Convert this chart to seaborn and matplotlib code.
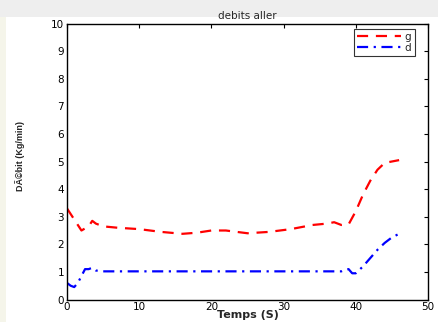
import numpy as np
import pandas as pd
import matplotlib
matplotlib.use("Agg")
import matplotlib.pyplot as plt
import seaborn as sns
from matplotlib.patches import Rectangle

# ---- data ----
t_g = [0, 1, 2, 3, 3.5, 4, 5, 7, 10, 13, 16, 18, 20, 22, 25, 28, 31, 34, 36, 37, 38, 39, 40, 41, 42, 43, 44, 45, 46]
v_g = [3.3, 2.9, 2.5, 2.65, 2.85, 2.75, 2.65, 2.6, 2.55, 2.45, 2.38, 2.42, 2.5, 2.5, 2.4, 2.45, 2.55, 2.7, 2.75, 2.8, 2.7, 2.72, 3.2, 3.8, 4.3, 4.7, 4.95, 5.0, 5.05]
t_d = [0, 0.5, 1, 1.5, 2, 2.5, 3, 3.5, 4, 5, 10, 20, 30, 38, 38.5, 39, 39.5, 40, 41, 42, 43, 44, 45, 46]
v_d = [0.6, 0.5, 0.45, 0.6, 0.85, 1.1, 1.1, 1.15, 1.05, 1.02, 1.02, 1.02, 1.02, 1.02, 1.08, 1.1, 0.95, 0.95, 1.2, 1.5, 1.8, 2.05, 2.25, 2.38]
series_names = ["g", "d"]
title = "debits aller"
xlabel = "Temps (S)"
ylabel = "DÃ©bit (Kg/min)"
xticks = [0, 10, 20, 30, 40, 50]
yticks = list(range(0, 11))

df = pd.concat([
    pd.DataFrame({"t": t_g, "v": v_g, "serie": "g"}),
    pd.DataFrame({"t": t_d, "v": v_d, "serie": "d"}),
], ignore_index=True)

sns.set_theme(style="white")
plt.rcParams["font.family"] = ["DejaVu Sans"]

fig = plt.figure(figsize=(4.39, 3.22), dpi=100, facecolor="white")
# background bands
fig.patches.append(Rectangle((0, 1 - 17 / 322), 1, 17 / 322, transform=fig.transFigure,
                             facecolor="#eeeeee", edgecolor="none", zorder=-10))
fig.patches.append(Rectangle((0, 0), 6 / 439, 1 - 17 / 322, transform=fig.transFigure,
                             facecolor="#f5f5ea", edgecolor="none", zorder=-10))

ax = fig.add_axes([67 / 439, 22.5 / 322, 361 / 439, 276 / 322])
ax.set_facecolor("white")

sns.lineplot(data=df, x="t", y="v", hue="serie", style="serie",
             hue_order=series_names, style_order=series_names,
             palette={"g": "#ff0000", "d": "#0000ff"},
             dashes={"g": (5, 3.5), "d": (5, 2.5, 1, 2.5)},
             linewidth=1.6, ax=ax, estimator=None, sort=False)

ax.set_xlim(0, 50)
ax.set_ylim(0, 10)
ax.set_xticks(xticks)
ax.set_yticks(yticks)
ax.tick_params(direction="in", length=3, width=0.8, top=True, right=True,
               labelsize=7.5, colors="black", pad=2)
for s in ax.spines.values():
    s.set_color("black")
    s.set_linewidth(1.0)

ax.set_title(title, fontsize=7.5, pad=3)
ax.set_xlabel(xlabel, fontsize=8, fontweight="bold")
ax.xaxis.set_label_coords(0.5, -0.038)
ax.set_ylabel(ylabel, fontsize=6.5, fontweight="bold",
              family=["Liberation Sans", "DejaVu Sans"])
ax.yaxis.set_label_coords(-0.115, 0.52)

leg = ax.legend(loc="upper right", fontsize=7.5, frameon=True, fancybox=False,
                edgecolor="black", handlelength=4.2, borderpad=0.3, labelspacing=0.1,
                handletextpad=0.4, borderaxespad=0.25, bbox_to_anchor=(0.97, 0.99))
leg.get_frame().set_linewidth(0.8)

fig.savefig("out.png", dpi=100, facecolor=fig.get_facecolor())
